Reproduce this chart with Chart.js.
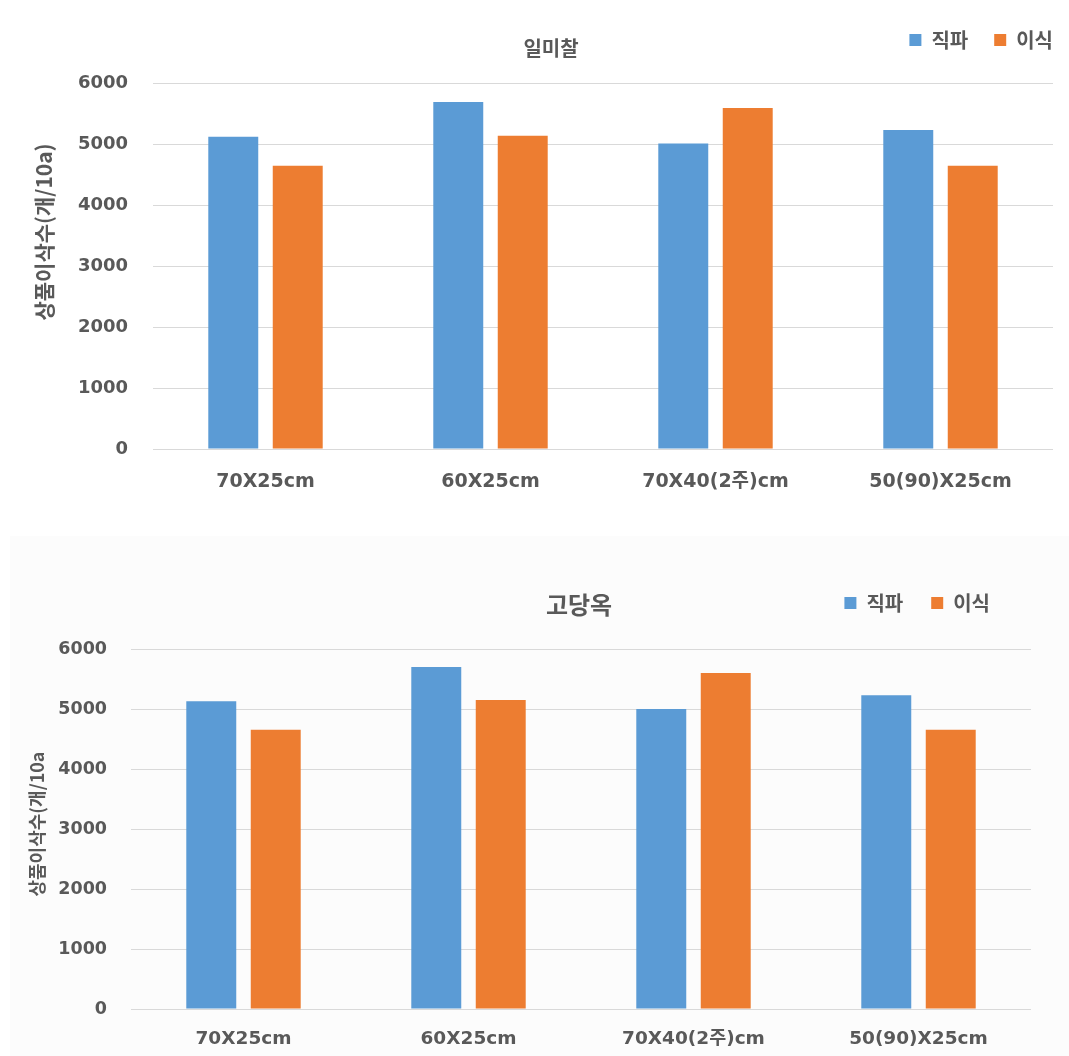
<!DOCTYPE html>
<html>
<head>
<meta charset="utf-8">
<script src="https://cdn.jsdelivr.net/npm/chart.js@4.4.1/dist/chart.umd.min.js"></script>
<style>
  body { margin: 0; background: #ffffff; }
  #wrapTop { position: absolute; left: 0; top: 0; width: 1069px; height: 520px; }
  #wrapBottom { position: absolute; left: 10px; top: 536px; width: 1059px; height: 520px; background: #fcfcfc; }
</style>
</head>
<body>
<div id="wrapTop"><canvas id="chartTop" width="1069" height="520"></canvas></div>
<div id="wrapBottom"><canvas id="chartBottom" width="1059" height="520"></canvas></div>
<script>
// spacing treatments on the x axis
const spacings = ['70X25cm', '60X25cm', '70X40(2주)cm', '50(90)X25cm'];
const seriesNames = ['직파', '이식'];

// 일미찰
const ilmichalDirect = [5120, 5690, 5010, 5230];
const ilmichalTransplant = [4645, 5135, 5590, 4645];

// 고당옥
const godangokDirect = [5130, 5700, 5000, 5230];
const godangokTransplant = [4655, 5150, 5600, 4655];

const yMin = 0, yMax = 6000, yStep = 1000;

const blue = '#5B9BD5';
const orange = '#ED7D31';
const textGray = '#595959';
const gridGray = '#D9D9D9';
const tickFamily = "'DejaVu Sans', 'Noto Sans CJK KR', sans-serif";
const krFamily = "'Noto Sans CJK KR', sans-serif";

// draws the chart title and y title where the original has them
const extraText = {
  id: 'extraText',
  afterDraw(chart, args, opts) {
    const ctx = chart.ctx;
    (opts.items || []).forEach(t => {
      ctx.save();
      ctx.font = t.font;
      ctx.fillStyle = t.color || textGray;
      ctx.textAlign = 'center';
      ctx.textBaseline = 'middle';
      ctx.translate(t.x, t.y);
      if (t.rotate) ctx.rotate(t.rotate);
      ctx.fillText(t.text, 0, 0);
      ctx.restore();
    });
  }
};

// moves the legend to the top-right spot
const legendSpot = {
  id: 'legendSpot',
  afterLayout(chart, args, opts) {
    const lg = chart.legend;
    if (!lg) return;
    const h = lg.height;
    lg.top = opts.top;
    lg.bottom = opts.top + h;
    lg.right = opts.right;
  }
};

function makeChart(id, direct, transplant, cfg) {
  const ctx = document.getElementById(id).getContext('2d');
  return new Chart(ctx, {
    type: 'bar',
    data: {
      labels: spacings,
      datasets: [
        { label: seriesNames[0], data: direct, backgroundColor: blue },
        { label: seriesNames[1], data: transplant, backgroundColor: orange }
      ]
    },
    options: {
      responsive: false,
      animation: false,
      categoryPercentage: 0.573,
      barPercentage: 0.775,
      layout: { padding: { left: 0, right: cfg.padRight, top: cfg.padTop, bottom: 0 } },
      plugins: {
        tooltip: { enabled: false },
        title: { display: false },
        legend: {
          position: 'top',
          align: 'end',
          labels: {
            boxWidth: 12,
            boxHeight: 12,
            padding: cfg.legendPad,
            color: textGray,
            font: { family: krFamily, size: 20, weight: 'bold' }
          }
        },
        legendSpot: { top: cfg.legendTop, right: cfg.legendRight },
        extraText: { items: cfg.texts }
      },
      scales: {
        x: {
          grid: { display: false },
          border: { display: false },
          ticks: {
            color: textGray,
            padding: cfg.xPad,
            maxRotation: 0,
            autoSkip: false,
            font: { family: tickFamily, size: cfg.xFont, weight: 'bold' }
          },
          afterFit(scale) { scale.height = cfg.xHeight; }
        },
        y: {
          min: yMin,
          max: yMax,
          grid: { color: gridGray, lineWidth: 1, drawTicks: false },
          border: { display: false },
          ticks: {
            stepSize: yStep,
            color: textGray,
            padding: cfg.yPad,
            font: { family: tickFamily, size: cfg.yFont, weight: 'bold' },
            callback: v => String(v)
          },
          afterFit(scale) { scale.width = cfg.yWidth; }
        }
      }
    },
    plugins: [legendSpot, extraText]
  });
}

makeChart('chartTop', ilmichalDirect, ilmichalTransplant, {
  padRight: 16, padTop: 27,
  legendPad: 26, legendTop: 4, legendRight: 1079,
  xPad: 14, xFont: 19, xHeight: 71,
  yPad: 25, yFont: 18, yWidth: 153,
  texts: [
    { text: '일미찰', x: 551, y: 48, font: "bold 20px " + krFamily },
    { text: '상품이삭수(개/10a)', x: 44, y: 232, rotate: -Math.PI / 2, font: "bold 21px " + krFamily }
  ]
});

makeChart('chartBottom', godangokDirect, godangokTransplant, {
  padRight: 38, padTop: 55,
  legendPad: 28, legendTop: 29, legendRight: 1008,
  xPad: 11, xFont: 18.5, xHeight: 47,
  yPad: 24, yFont: 17.5, yWidth: 121,
  texts: [
    { text: '고당옥', x: 569, y: 69, font: "bold 24px " + krFamily },
    { text: '상품이삭수(개/10a', x: 27, y: 288, rotate: -Math.PI / 2, font: "bold 18px " + krFamily }
  ]
});
</script>
</body>
</html>
